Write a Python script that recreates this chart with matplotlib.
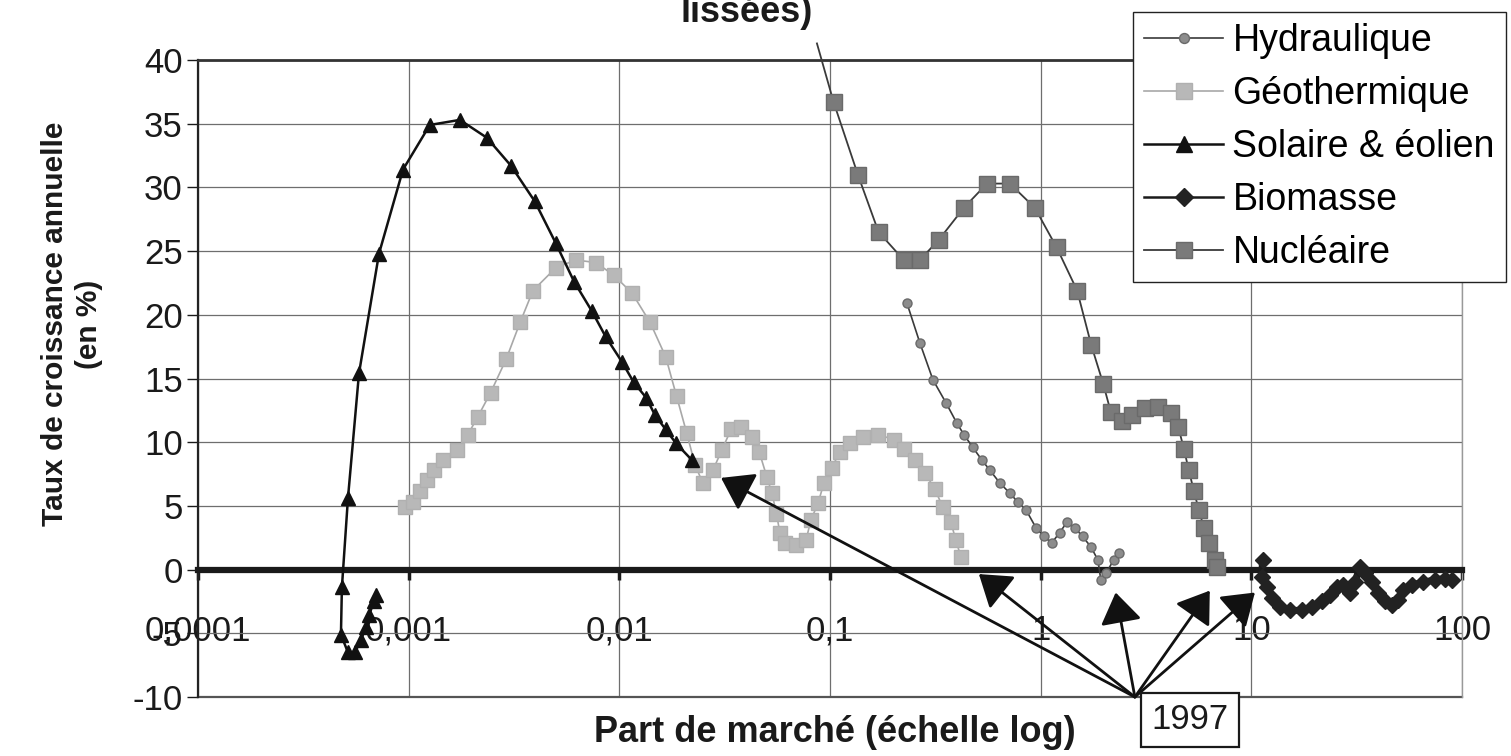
import matplotlib
matplotlib.use("Agg")
import matplotlib.pyplot as plt
from matplotlib.ticker import FixedLocator, NullLocator

plt.rcParams["font.family"] = ["Liberation Sans", "DejaVu Sans"]

# part de marché (%) / taux de croissance annuelle (%)
hydro_x = [0.232, 0.267, 0.308, 0.355, 0.400, 0.432, 0.476, 0.526, 0.574, 0.640,
           0.714, 0.779, 0.851, 0.949, 1.035, 1.13, 1.23, 1.33, 1.45, 1.58,
           1.73, 1.87, 1.93, 2.04, 2.22, 2.35]
hydro_y = [20.9, 17.8, 14.9, 13.1, 11.5, 10.6, 9.6, 8.6, 7.8, 6.8,
           6.0, 5.3, 4.7, 3.3, 2.6, 2.1, 2.9, 3.7, 3.3, 2.6,
           1.8, 0.75, -0.8, -0.3, 0.75, 1.3]

geo_x = [0.000957, 0.00105, 0.00113, 0.00122, 0.00132, 0.00146, 0.00170, 0.00191,
         0.00213, 0.00245, 0.00290, 0.00338, 0.00389, 0.0050, 0.00622, 0.00774,
         0.00942, 0.0115, 0.0140, 0.0166, 0.0187, 0.0209, 0.0229, 0.0249, 0.0278,
         0.0307, 0.0339, 0.0378, 0.0426, 0.0462, 0.0501, 0.0530, 0.0557, 0.0578,
         0.0611, 0.0689, 0.0769, 0.0812, 0.0877, 0.0936, 0.102, 0.111, 0.124,
         0.143, 0.169, 0.201, 0.224, 0.253, 0.282, 0.315, 0.343, 0.375, 0.396,
         0.418]
geo_y = [4.9, 5.3, 6.2, 7.0, 7.8, 8.6, 9.4, 10.6,
         12.0, 13.9, 16.5, 19.4, 21.9, 23.7, 24.3, 24.1,
         23.1, 21.7, 19.4, 16.7, 13.6, 10.7, 8.2, 6.8, 7.8,
         9.4, 11.0, 11.2, 10.4, 9.2, 7.3, 6.0, 4.4, 2.9,
         2.1, 1.9, 2.3, 3.9, 5.2, 6.8, 8.0, 9.2, 9.9,
         10.4, 10.6, 10.2, 9.5, 8.6, 7.6, 6.3, 4.9, 3.7, 2.3,
         1.0]

sol_x = [0.000700, 0.000684, 0.000648, 0.000627, 0.000594, 0.000556, 0.000515,
         0.000477, 0.000482, 0.000515, 0.000581, 0.000723, 0.00094, 0.00126,
         0.00175, 0.00235, 0.00306, 0.00397, 0.0050, 0.0061, 0.0074, 0.0086,
         0.0103, 0.0117, 0.0134, 0.0148, 0.0166, 0.0186, 0.0221]
sol_y = [-2.0, -2.5, -3.6, -4.5, -5.5, -6.5, -6.5,
         -5.1, -1.4, 5.6, 15.4, 24.8, 31.4, 34.9,
         35.3, 33.9, 31.7, 28.9, 25.6, 22.6, 20.3, 18.3,
         16.3, 14.7, 13.5, 12.1, 11.0, 9.9, 8.6]

bio_x = [11.3, 11.2, 11.9, 12.5, 13.7, 15.2, 17.4, 19.4, 21.6, 23.6, 25.5, 27.2,
         29.4, 31.0, 32.7, 34.6, 37.3, 39.8, 43.1, 46.5, 49.6, 52.4, 57.9, 65.2,
         74.3, 82.8, 89.5]
bio_y = [0.75, -0.6, -1.4, -2.2, -2.9, -3.2, -3.2, -2.9, -2.5, -2.0, -1.4, -1.2,
         -1.8, -1.0, 0.2, -0.3, -1.0, -1.8, -2.5, -2.8, -2.4, -1.6, -1.2, -1.0,
         -0.8, -0.7, -0.8]

nuc_x = [0.0867, 0.104, 0.1356, 0.170, 0.224, 0.267, 0.329, 0.432, 0.556, 0.714,
         0.938, 1.19, 1.49, 1.74, 1.98, 2.15, 2.42, 2.71, 3.12, 3.60, 4.15, 4.50,
         4.78, 5.05, 5.33, 5.63, 5.95, 6.33, 6.71, 6.86]
nuc_y = [41.3, 36.7, 31.0, 26.5, 24.3, 24.3, 25.9, 28.4, 30.3, 30.3,
         28.4, 25.3, 21.9, 17.6, 14.6, 12.4, 11.7, 12.1, 12.7, 12.8, 12.3, 11.2,
         9.5, 7.8, 6.2, 4.7, 3.3, 2.1, 0.75, 0.2]

x_ticks = [0.0001, 0.001, 0.01, 0.1, 1, 10, 100]
x_tick_labels = ["0,0001", "0,001", "0,01", "0,1", "1", "10", "100"]
y_ticks = [-10, -5, 0, 5, 10, 15, 20, 25, 30, 35, 40]

# flèches "1997" : origine commune et pointes
arrow_origin = (2.8, -10.0)
arrow_tips_x = [0.0304, 0.509, 2.27, 6.35, 10.4]
arrow_tips_y = [7.2, -0.35, -1.8, -1.65, -1.8]
label_1997 = "1997"

W, H = 1511, 756
fig = plt.figure(figsize=(W / 100, H / 100), dpi=100)
ax = fig.add_axes([198 / W, 1 - 697 / H, (1462 - 198) / W, (697 - 60) / H])

ax.set_xscale("log")
ax.set_xlim(0.0001, 100)
ax.set_ylim(-10, 40)

ax.xaxis.set_major_locator(FixedLocator(x_ticks))
ax.xaxis.set_minor_locator(NullLocator())
ax.set_xticklabels(x_tick_labels)
ax.set_yticks(y_ticks)
ax.set_yticklabels([str(v) for v in y_ticks])

ax.grid(True, which="major", color="#6e6e6e", lw=0.9)
ax.set_axisbelow(True)

ax.spines["bottom"].set_position(("data", 0))
ax.spines["bottom"].set_linewidth(4.5)
ax.spines["bottom"].set_color("#1a1a1a")
ax.spines["top"].set_linewidth(2)
ax.spines["top"].set_color("#333333")
ax.spines["left"].set_linewidth(1.6)
ax.spines["left"].set_color("#222222")
ax.spines["right"].set_linewidth(1)
ax.spines["right"].set_color("#999999")
ax.axhline(-10, color="#555555", lw=1.6, clip_on=False, zorder=2)

ax.tick_params(axis="x", direction="out", length=7, width=2.5, pad=25,
               labelsize=25, colors="#1a1a1a")
ax.tick_params(axis="y", direction="out", length=8, width=1, pad=3,
               labelsize=25, colors="#1a1a1a")

ax.plot(hydro_x, hydro_y, "-o", color="#3a3a3a", lw=1.2, ms=6.5,
        mfc="#8c8c8c", mec="#6a6a6a", label="Hydraulique", zorder=4)
ax.plot(geo_x, geo_y, "-s", color="#a8a8a8", lw=1.2, ms=10,
        mfc="#b8b8b8", mec="#b0b0b0", label="Géothermique", zorder=3)
ax.plot(sol_x, sol_y, "-^", color="#111111", lw=1.8, ms=10,
        mfc="#111111", mec="#111111", label="Solaire & éolien", zorder=5)
# bande épaisse de la biomasse (sans entrée de légende), puis la série marquée
ax.plot(bio_x, bio_y, "-", color="#1a1a1a", lw=5, zorder=5)
ax.plot(bio_x, bio_y, "-D", color="#1a1a1a", lw=1.8, ms=8.5,
        mfc="#222222", mec="#222222", label="Biomasse", zorder=5)
ax.plot(nuc_x, nuc_y, "-s", color="#3a3a3a", lw=1.3, ms=11,
        mfc="#7a7a7a", mec="#6a6a6a", label="Nucléaire", zorder=4,
        clip_on=False, markevery=slice(1, None))

for tx, ty in zip(arrow_tips_x, arrow_tips_y):
    ax.annotate("", xy=(tx, ty), xytext=arrow_origin, annotation_clip=False,
                arrowprops=dict(arrowstyle="-|>,head_length=0.5,head_width=0.34",
                                mutation_scale=38, color="#111111", lw=2,
                                shrinkA=0, shrinkB=0), zorder=6)

ax.text(5.1, -11.8, label_1997, ha="center", va="center", fontsize=25,
        color="#1a1a1a", clip_on=False, zorder=7,
        bbox=dict(boxstyle="square,pad=0.3", fc="white", ec="#1a1a1a", lw=1.6))

fig.legend(loc="upper left", bbox_to_anchor=(1133 / W, 1 - 12 / H),
           fontsize=27, frameon=True, fancybox=False, edgecolor="#222222",
           framealpha=1, handlelength=2.1, handletextpad=0.25,
           labelspacing=0.45, borderpad=0.3, borderaxespad=0, markerscale=1.1)

fig.text(747 / W, 1 - 22 / H, "lissées)", ha="center", va="baseline",
         fontsize=26, fontweight="bold", color="#1a1a1a")
fig.text(835 / W, 1 - 733 / H, "Part de marché (échelle log)", ha="center",
         va="center", fontsize=26, fontweight="bold", color="#1a1a1a")
fig.text(72 / W, 1 - 324 / H, "Taux de croissance annuelle\n(en %)",
         rotation=90, ha="center", va="center", fontsize=21.5,
         fontweight="bold", color="#1a1a1a", multialignment="center",
         linespacing=1.3)

fig.savefig("out.png", dpi=100)
